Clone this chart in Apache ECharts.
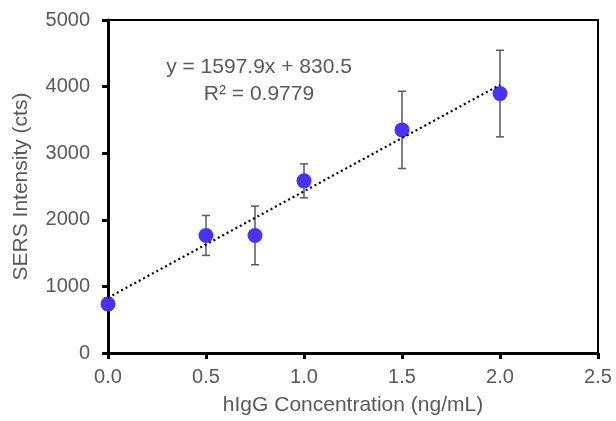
<!DOCTYPE html>
<html>
<head>
<meta charset="utf-8">
<script src="https://cdn.jsdelivr.net/npm/echarts@6/dist/echarts.min.js"></script>
<style>
  html, body { margin: 0; padding: 0; background: #fff; }
  #chart { width: 616px; height: 421px; }
</style>
</head>
<body>
<div id="chart"></div>
<script>
var concentration = [0, 0.5, 0.75, 1.0, 1.5, 2.0];
var intensity = [735, 1765, 1765, 2585, 3350, 3895];
var errorSize = [90, 300, 440, 255, 580, 650];
var fitSlope = 1597.9;
var fitIntercept = 830.5;
var fitRange = [0, 2.0];
var equationLines = ['y = 1597.9x + 830.5', 'R² = 0.9779'];

var dom = document.getElementById('chart');
var chart = echarts.init(dom, null, { renderer: 'canvas' });

var points = concentration.map(function (x, i) { return [x, intensity[i]]; });
var errors = concentration.map(function (x, i) {
    return [x, intensity[i] - errorSize[i], intensity[i] + errorSize[i]];
});
// trendline endpoints from the fitted equation shown on the chart
var trend = fitRange.map(function (x) { return [x, fitSlope * x + fitIntercept]; });

var textGray = '#595959';
var font = 'Liberation Sans, Arial, sans-serif';

var option = {
    animation: false,
    backgroundColor: '#fff',
    grid: {
        left: 108, right: 18, top: 20, bottom: 65,
        show: true, borderColor: '#000', borderWidth: 2, backgroundColor: 'transparent'
    },
    xAxis: {
        type: 'value', min: 0, max: 2.5, interval: 0.5,
        name: 'hIgG Concentration (ng/mL)', nameLocation: 'middle', nameGap: 42,
        nameTextStyle: { color: textGray, fontSize: 21, fontFamily: font },
        axisLine: { show: true, lineStyle: { color: '#000', width: 3 } },
        axisTick: { show: true, inside: false, length: 6, lineStyle: { color: '#000', width: 3 } },
        axisLabel: {
            color: textGray, fontSize: 20, fontFamily: font, margin: 14,
            formatter: function (v) { return v.toFixed(1); }
        },
        splitLine: { show: false }
    },
    yAxis: {
        type: 'value', min: 0, max: 5000, interval: 1000,
        name: 'SERS Intensity (cts)', nameLocation: 'middle', nameGap: 76,
        nameTextStyle: { color: textGray, fontSize: 21, fontFamily: font },
        axisLine: { show: true, lineStyle: { color: '#000', width: 3 } },
        axisTick: { show: true, inside: false, length: 6, lineStyle: { color: '#000', width: 3 } },
        axisLabel: {
            color: textGray, fontSize: 20, fontFamily: font, margin: 18,
            formatter: function (v) { return String(v); }
        },
        splitLine: { show: false }
    },
    graphic: equationLines.map(function (line, i) {
        return {
            type: 'text', x: 259, y: 67 + i * 27, z: 10,
            style: {
                text: line, fill: textGray, fontSize: 21, fontFamily: font,
                align: 'center', verticalAlign: 'middle'
            }
        };
    }),
    series: [
        {
            type: 'custom',
            data: errors,
            z: 2,
            renderItem: function (params, api) {
                var x = api.value(0);
                var lo = api.coord([x, api.value(1)]);
                var hi = api.coord([x, api.value(2)]);
                var cap = 4;
                var style = { stroke: '#595959', lineWidth: 1.5 };
                return {
                    type: 'group',
                    children: [
                        { type: 'line', shape: { x1: lo[0], y1: lo[1], x2: hi[0], y2: hi[1] }, style: style },
                        { type: 'line', shape: { x1: lo[0] - cap, y1: lo[1], x2: lo[0] + cap, y2: lo[1] }, style: style },
                        { type: 'line', shape: { x1: hi[0] - cap, y1: hi[1], x2: hi[0] + cap, y2: hi[1] }, style: style }
                    ]
                };
            }
        },
        {
            type: 'scatter',
            data: points,
            z: 3,
            symbol: 'circle',
            symbolSize: 15,
            itemStyle: { color: '#4633FF', opacity: 1 }
        },
        {
            type: 'line',
            data: trend,
            z: 4,
            symbol: 'none',
            silent: true,
            lineStyle: { color: '#000', width: 2.2, type: [2, 3] }
        }
    ]
};

chart.setOption(option);
window.addEventListener('resize', chart.resize);
</script>
</body>
</html>
